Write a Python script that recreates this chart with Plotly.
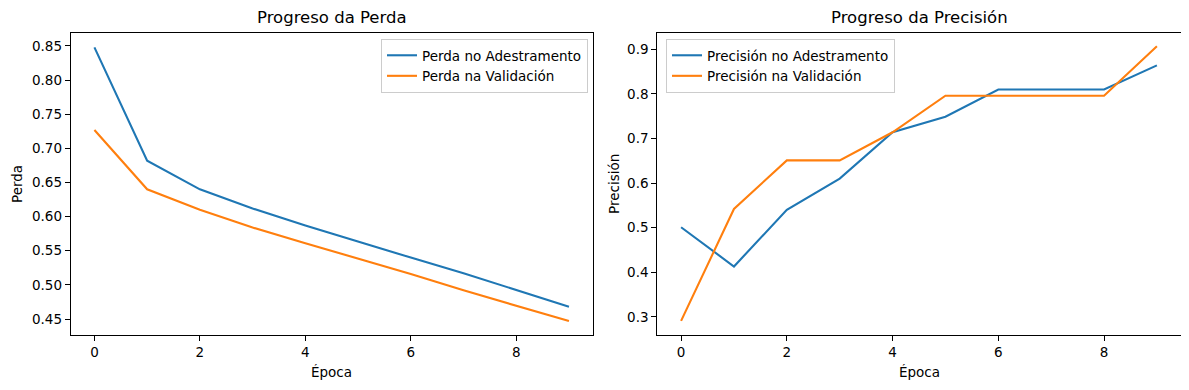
import plotly.graph_objects as go

epochs = list(range(10))
train_loss = [0.848, 0.682, 0.640, 0.612, 0.587, 0.563, 0.540, 0.517, 0.493, 0.468]
val_loss = [0.727, 0.640, 0.610, 0.584, 0.561, 0.539, 0.516, 0.492, 0.470, 0.447]
train_acc = [0.501, 0.413, 0.540, 0.610, 0.714, 0.749, 0.810, 0.810, 0.810, 0.864]
val_acc = [0.291, 0.542, 0.651, 0.651, 0.714, 0.796, 0.796, 0.796, 0.796, 0.907]

loss_ticks = [0.45, 0.50, 0.55, 0.60, 0.65, 0.70, 0.75, 0.80, 0.85]
acc_ticks = [0.3, 0.4, 0.5, 0.6, 0.7, 0.8, 0.9]
x_ticks = [0, 2, 4, 6, 8]

BLUE = "#1f77b4"
ORANGE = "#ff7f0e"
FONT = "DejaVu Sans"
OFF = 8  # default page body margin
W, H = 1189 - OFF, 390 - OFF


def px(x):
    return (x - OFF) / W


def py(y):
    return 1 - (y - OFF) / H


fig = go.Figure()
fig.add_trace(go.Scatter(x=epochs, y=train_loss, mode="lines", name="Perda no Adestramento",
                         line=dict(color=BLUE, width=2.1), xaxis="x", yaxis="y", legend="legend"))
fig.add_trace(go.Scatter(x=epochs, y=val_loss, mode="lines", name="Perda na Validación",
                         line=dict(color=ORANGE, width=2.1), xaxis="x", yaxis="y", legend="legend"))
fig.add_trace(go.Scatter(x=epochs, y=train_acc, mode="lines", name="Precisión no Adestramento",
                         line=dict(color=BLUE, width=2.1), xaxis="x2", yaxis="y2", legend="legend2"))
fig.add_trace(go.Scatter(x=epochs, y=val_acc, mode="lines", name="Precisión na Validación",
                         line=dict(color=ORANGE, width=2.1), xaxis="x2", yaxis="y2", legend="legend2"))

axis_common = dict(showline=True, linecolor="black", linewidth=1, mirror=True,
                   ticks="outside", ticklen=5, tickwidth=1, tickcolor="black",
                   showgrid=False, zeroline=False, automargin=False,
                   tickfont=dict(family=FONT, size=13.5, color="black"))

ydom = [py(334.7), py(33.3)]
x1dom = [px(70.7), px(592.7)]
x2dom = [px(657.3), px(1180.7)]

legend_common = dict(bgcolor="rgba(255,255,255,0.8)", bordercolor="#cccccc", borderwidth=1,
                     font=dict(family=FONT, size=13.5, color="black"),
                     tracegroupgap=0, itemwidth=30)

fig.update_layout(
    width=W, height=H,
    margin=dict(l=0, r=0, t=0, b=0),
    paper_bgcolor="white", plot_bgcolor="white",
    font=dict(family=FONT, color="black"),
    xaxis=dict(domain=x1dom, anchor="y", range=[-0.45, 9.45], tickvals=x_ticks, **axis_common),
    yaxis=dict(domain=ydom, anchor="x", range=[0.427, 0.8686], tickvals=loss_ticks,
               ticktext=[f"{v:.2f}" for v in loss_ticks], **axis_common),
    xaxis2=dict(domain=x2dom, anchor="y2", range=[-0.45, 9.45], tickvals=x_ticks, **axis_common),
    yaxis2=dict(domain=ydom, anchor="x2", range=[0.260, 0.936], tickvals=acc_ticks,
                ticktext=[f"{v:.1f}" for v in acc_ticks], **axis_common),
    legend=dict(x=px(588), y=py(39), xanchor="right", yanchor="top", **legend_common),
    legend2=dict(x=px(666), y=py(39), xanchor="left", yanchor="top", **legend_common),
    showlegend=True,
)

ann = [
    dict(text="Progreso da Perda", x=(x1dom[0] + x1dom[1]) / 2, y=py(18), size=16.5),
    dict(text="Progreso da Precisión", x=(x2dom[0] + x2dom[1]) / 2, y=py(18), size=16.5),
    dict(text="Época", x=(x1dom[0] + x1dom[1]) / 2, y=py(372), size=13.5),
    dict(text="Época", x=(x2dom[0] + x2dom[1]) / 2, y=py(372), size=13.5),
]
for a in ann:
    fig.add_annotation(text=a["text"], x=a["x"], y=a["y"], xref="paper", yref="paper",
                       xanchor="center", yanchor="middle", showarrow=False,
                       font=dict(family=FONT, size=a["size"], color="black"))
fig.add_annotation(text="Perda", x=px(17), y=(ydom[0] + ydom[1]) / 2, xref="paper", yref="paper",
                   xanchor="center", yanchor="middle", showarrow=False, textangle=-90,
                   font=dict(family=FONT, size=13.5, color="black"))
fig.add_annotation(text="Precisión", x=px(614), y=(ydom[0] + ydom[1]) / 2, xref="paper", yref="paper",
                   xanchor="center", yanchor="middle", showarrow=False, textangle=-90,
                   font=dict(family=FONT, size=13.5, color="black"))

fig.write_html("out.html")
